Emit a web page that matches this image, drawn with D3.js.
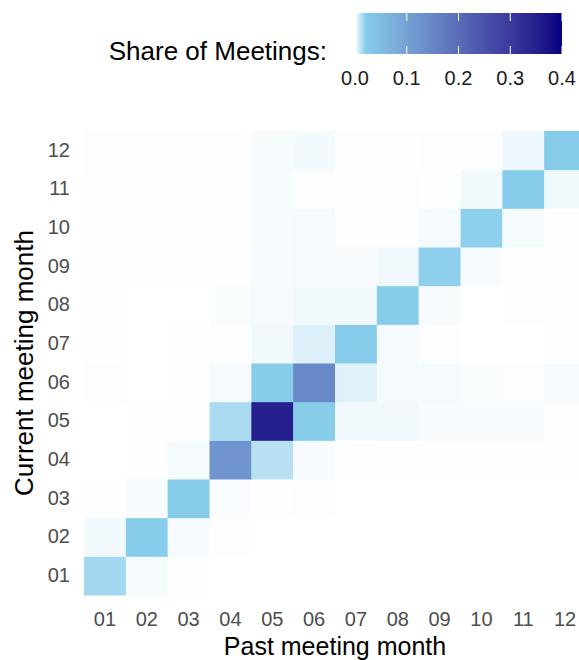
<!DOCTYPE html>
<html>
<head>
<meta charset="utf-8">
<script src="https://cdn.jsdelivr.net/npm/d3@7"></script>
<style>
  body { margin: 0; background: #fff; }
  svg { display: block; font-family: "Liberation Sans", Arial, sans-serif; }
</style>
</head>
<body>
<div id="chart"></div>
<script>
// month labels, used on both axes
const months = ["01", "02", "03", "04", "05", "06", "07", "08", "09", "10", "11", "12"];

// share of meetings: one row per current month (01..12), columns are past month (01..12)
const shares = [
  [0.016, 0.0017, 0.0003, 0.0002, 0.0002, 0.0002, 0.0001, 0.0001, 0.0001, 0.0001, 0.0001, 0.0001],
  [0.0023, 0.021, 0.0015, 0.0003, 0.0002, 0.0001, 0.0001, 0.0001, 0.0001, 0.0001, 0.0001, 0.0001],
  [0.0005, 0.0015, 0.022, 0.0013, 0.0003, 0.0006, 0.0002, 0.0002, 0.0001, 0.0001, 0.0001, 0.0001],
  [0.0002, 0.0005, 0.002, 0.124, 0.0125, 0.0015, 0.0003, 0.0003, 0.0003, 0.0005, 0.0003, 0.0003],
  [0.0002, 0.0004, 0.0004, 0.0145, 0.35, 0.022, 0.0025, 0.0027, 0.0015, 0.0015, 0.0015, 0.0008],
  [0.0006, 0.0002, 0.0005, 0.0018, 0.022, 0.146, 0.0057, 0.0017, 0.0019, 0.001, 0.0006, 0.0019],
  [0.0003, 0.0002, 0.0003, 0.0006, 0.0025, 0.006, 0.023, 0.002, 0.0004, 0.0002, 0.0002, 0.0003],
  [0.0005, 0.0002, 0.0002, 0.0009, 0.002, 0.0026, 0.0023, 0.022, 0.0015, 0.0002, 0.0005, 0.0005],
  [0.0005, 0.0006, 0.0008, 0.0003, 0.0016, 0.0019, 0.0015, 0.0027, 0.019, 0.0015, 0.0005, 0.0003],
  [0.0005, 0.0003, 0.0003, 0.0006, 0.0016, 0.0018, 0.0005, 0.0003, 0.002, 0.019, 0.0018, 0.0003],
  [0.0005, 0.0005, 0.0005, 0.0005, 0.0016, 0.0008, 0.0005, 0.0006, 0.0005, 0.0023, 0.021, 0.0026],
  [0.0006, 0.0006, 0.0006, 0.0006, 0.0016, 0.0021, 0.0005, 0.0005, 0.0006, 0.0008, 0.003, 0.024]
];

const legendBreaks = [0, 0.1, 0.2, 0.3, 0.4];

const width = 579;
const height = 660;
const margin = { top: 131, right: -7, bottom: 65, left: 84 };

const cells = [];
shares.forEach((row, i) => row.forEach((v, j) => {
  cells.push({ current: months[i], past: months[j], value: v });
}));

const svg = d3.select("#chart").append("svg")
  .attr("width", width)
  .attr("height", height);

const x = d3.scaleBand()
  .domain(months)
  .range([margin.left, width - margin.right]);

const y = d3.scaleBand()
  .domain(months)
  .range([height - margin.bottom, margin.top]);

const color = d3.scaleLinear()
  .domain([0, 0.02, 0.4])
  .range(["white", "skyblue", "navy"])
  .interpolate(d3.interpolateLab)
  .clamp(true);

svg.append("g")
  .selectAll("rect")
  .data(cells)
  .join("rect")
  .attr("x", d => x(d.past))
  .attr("y", d => y(d.current))
  .attr("width", x.bandwidth() + 0.5)
  .attr("height", y.bandwidth() + 0.5)
  .attr("fill", d => color(d.value));

// axes (no lines, no ticks, like theme_minimal)
const xAxis = svg.append("g")
  .attr("transform", `translate(0,${height - margin.bottom})`)
  .call(d3.axisBottom(x).tickSize(0).tickPadding(17));
const yAxis = svg.append("g")
  .attr("transform", `translate(${margin.left},0)`)
  .call(d3.axisLeft(y).tickSize(0).tickPadding(14));

[xAxis, yAxis].forEach(g => {
  g.select(".domain").remove();
  g.selectAll("text")
    .attr("fill", "#4d4d4d")
    .style("font-size", "20px")
    .style("font-family", "'Liberation Sans', Arial, sans-serif");
});

const panelMidX = (margin.left + width - margin.right) / 2;
const panelMidY = (margin.top + height - margin.bottom) / 2;

svg.append("text")
  .attr("x", panelMidX)
  .attr("y", 655)
  .attr("text-anchor", "middle")
  .style("font-size", "25px")
  .text("Past meeting month");

svg.append("text")
  .attr("transform", `translate(33,${panelMidY}) rotate(-90)`)
  .attr("text-anchor", "middle")
  .style("font-size", "26px")
  .text("Current meeting month");

// colour bar legend
const lx = d3.scaleLinear().domain([0, 0.4]).range([355, 562]);
const barTop = 13, barH = 41;

const grad = svg.append("defs").append("linearGradient")
  .attr("id", "bar-grad")
  .attr("x1", "0%").attr("x2", "100%");
d3.range(0, 1.0001, 0.01).forEach(t => {
  grad.append("stop")
    .attr("offset", `${t * 100}%`)
    .attr("stop-color", color(t * 0.4));
});

const legend = svg.append("g");
legend.append("rect")
  .attr("x", lx(0))
  .attr("y", barTop)
  .attr("width", lx(0.4) - lx(0))
  .attr("height", barH)
  .attr("fill", "url(#bar-grad)");

legend.selectAll(".tk-top")
  .data(legendBreaks)
  .join("line")
  .attr("x1", d => lx(d)).attr("x2", d => lx(d))
  .attr("y1", barTop).attr("y2", barTop + 8)
  .attr("stroke", "white").attr("stroke-width", 1);

legend.selectAll(".tk-bot")
  .data(legendBreaks)
  .join("line")
  .attr("x1", d => lx(d)).attr("x2", d => lx(d))
  .attr("y1", barTop + barH - 8).attr("y2", barTop + barH)
  .attr("stroke", "white").attr("stroke-width", 1);

legend.selectAll(".lab")
  .data(legendBreaks)
  .join("text")
  .attr("x", d => lx(d))
  .attr("y", 85)
  .attr("text-anchor", "middle")
  .attr("fill", "#1a1a1a")
  .style("font-size", "20px")
  .text(d => d3.format(".1f")(d));

legend.append("text")
  .attr("x", 327)
  .attr("y", 60)
  .attr("text-anchor", "end")
  .style("font-size", "26px")
  .text("Share of Meetings:");
</script>
</body>
</html>
